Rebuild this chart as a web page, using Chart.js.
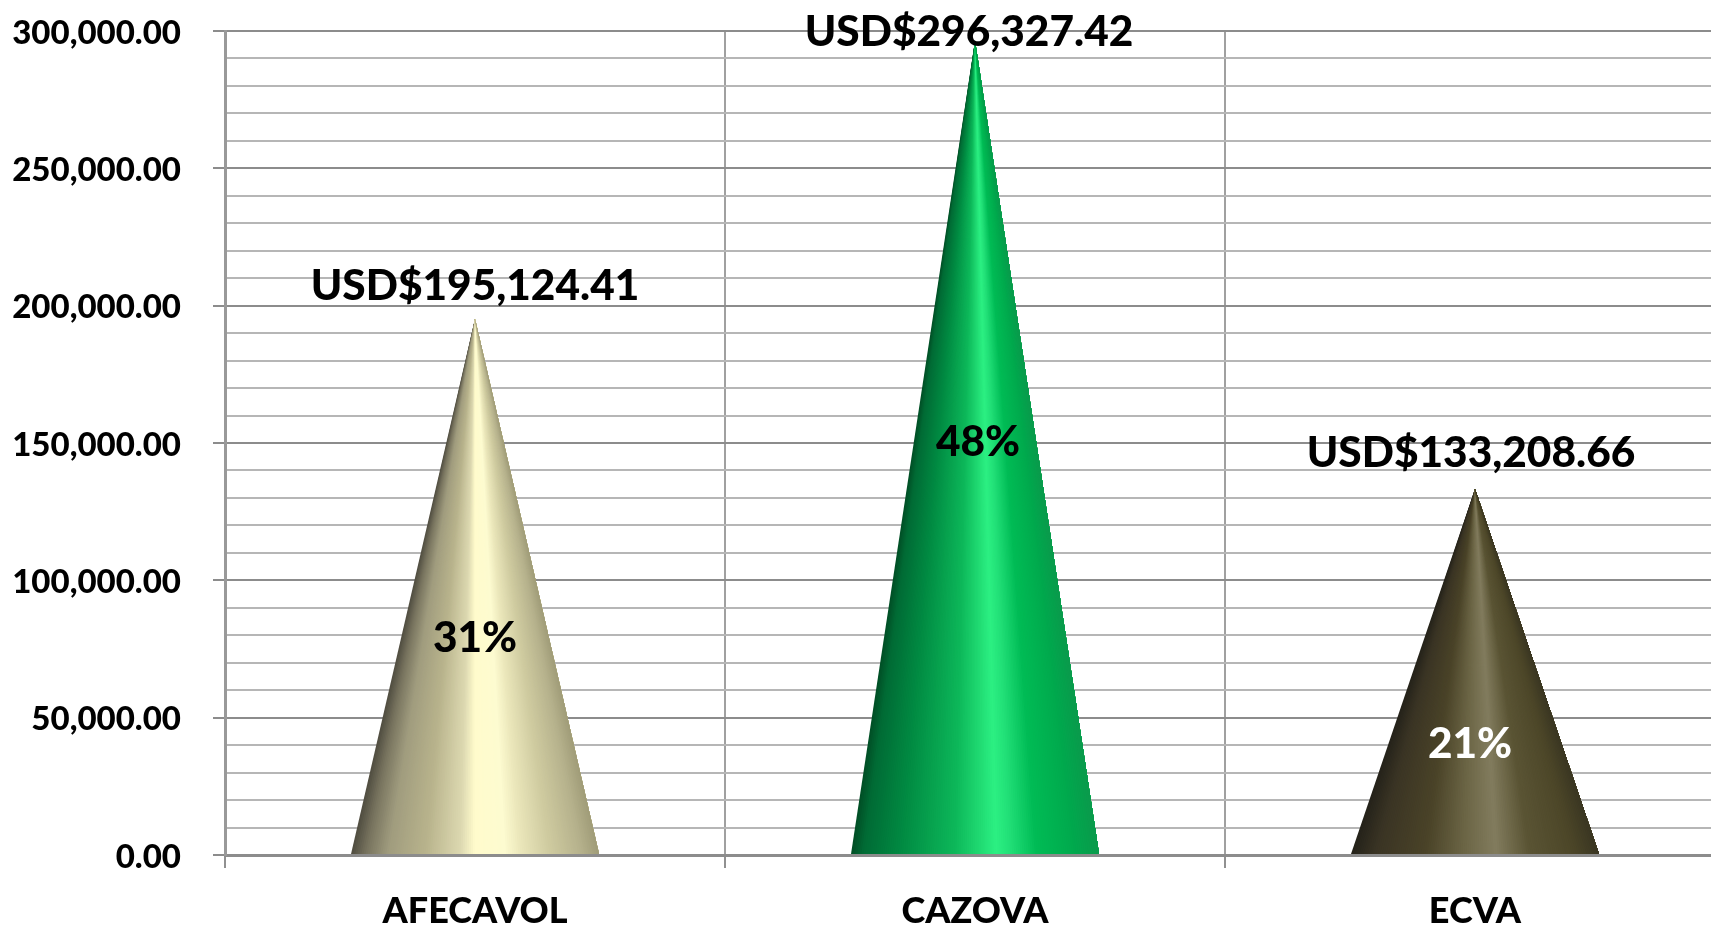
<!DOCTYPE html>
<html>
<head>
<meta charset="utf-8">
<title>Cones</title>
<script src="https://cdn.jsdelivr.net/npm/chart.js@4/dist/chart.umd.min.js"></script>
<style>
  html, body { margin: 0; padding: 0; background: #fff; overflow: hidden; width: 1711px; height: 927px; }
  #wrap { width: 1711px; height: 927px; overflow: hidden; position: relative; }
  #chart { position: absolute; left: 0; top: 0; }
</style>
</head>
<body>
<div id="wrap"><canvas id="chart" width="1730" height="927"></canvas></div>
<script>
// --- data ---
const categories = ['AFECAVOL', 'CAZOVA', 'ECVA'];
const amounts = [195124.41, 296327.42, 133208.66];
const percents = ['31%', '48%', '21%'];
const yMax = 300000;
const minorStep = 10000;
const majorStep = 50000;

// --- cone shading, position 0..1 across the base ---
const coneStops = [
  [[0,'#4f4c40'],[.06,'#77735e'],[.15,'#a09c7e'],[.3,'#b8b38c'],[.44,'#dcd8b0'],[.5,'#fffbcc'],[.62,'#fdfbd0'],[.68,'#ece8bc'],[.8,'#cfcba0'],[.93,'#b5b18c'],[1,'#a09c78']],
  [[0,'#004d25'],[.05,'#006b35'],[.2,'#018a42'],[.42,'#0db85a'],[.585,'#2cf082'],[.64,'#22e078'],[.75,'#00bb55'],[.9,'#00a94d'],[1,'#0a9a4c']],
  [[0,'#24221a'],[.1,'#3a3424'],[.3,'#4a4328'],[.45,'#6a6444'],[.585,'#827c5e'],[.72,'#5a5434'],[.9,'#4c4628'],[1,'#3a3622']]
];
// labels sit by hand in the original, so offsets from apex / cone middle
const amountOffsetX = [0, -6, -4];
const amountOffsetY = [-33, -33, -36];
const pctOffsetX = [0, 3, -5];
const pctOffsetY = [52, -5, 73];
const pctColors = ['#000', '#000', '#fff'];

const labelFont = '900 42.4px Lato';

function hexToRgb(h) {
  return [parseInt(h.substr(1,2),16), parseInt(h.substr(3,2),16), parseInt(h.substr(5,2),16)];
}

function colorAt(stops, t) {
  for (let i = 1; i < stops.length; i++) {
    if (t <= stops[i][0]) {
      const a = stops[i-1], b = stops[i];
      const k = (t - a[0]) / (b[0] - a[0]);
      const ca = hexToRgb(a[1]), cb = hexToRgb(b[1]);
      return 'rgb(' + ca.map((v, n) => Math.round(v + (cb[n] - v) * k)).join(',') + ')';
    }
  }
  return stops[stops.length-1][1];
}

// draws cones over the (invisible) bars, painted left to right so no seams show
const conePlugin = {
  id: 'cones',
  beforeDraw(chart) {
    // y tick labels sit a touch below their gridlines in the original
    chart.scales.y.getLabelItems().forEach(it => { it.options.translation[1] += 2; });
  },
  afterDatasetsDraw(chart) {
    const ctx = chart.ctx;
    const bars = chart.getDatasetMeta(0).data;
    bars.forEach((bar, i) => {
      const left = bar.x - bar.width / 2;
      const right = bar.x + bar.width / 2;
      const slices = 120;
      ctx.save();
      for (let s = 0; s < slices; s++) {
        const x0 = left + bar.width * s / slices;
        ctx.beginPath();
        ctx.moveTo(bar.x, bar.y);
        ctx.lineTo(x0, bar.base);
        ctx.lineTo(right, bar.base);
        ctx.closePath();
        ctx.fillStyle = colorAt(coneStops[i], (s + .5) / slices);
        ctx.fill();
      }
      ctx.restore();

      ctx.save();
      ctx.font = labelFont;
      ctx.textAlign = 'center';
      ctx.textBaseline = 'middle';
      const txt = 'USD$' + amounts[i].toLocaleString('en-US', { minimumFractionDigits: 2 });
      ctx.fillStyle = '#000';
      ctx.fillText(txt, bar.x + amountOffsetX[i], Math.max(bar.y + amountOffsetY[i], 32));
      ctx.fillStyle = pctColors[i];
      ctx.fillText(percents[i], bar.x + pctOffsetX[i], (bar.y + bar.base) / 2 + pctOffsetY[i]);
      ctx.restore();
    });
  }
};

new Chart(document.getElementById('chart'), {
  type: 'bar',
  plugins: [conePlugin],
  data: {
    labels: categories,
    datasets: [{
      data: amounts,
      backgroundColor: 'transparent',
      barPercentage: 0.496,
      categoryPercentage: 1
    }]
  },
  options: {
    responsive: false,
    animation: false,
    layout: { padding: { top: 31, right: 5, left: 0, bottom: 0 } },
    plugins: { legend: { display: false }, tooltip: { enabled: false } },
    scales: {
      x: {
        afterFit(scale) { scale.height = 72; },
        grid: { color: '#a0a0a0', lineWidth: 2, tickLength: 13, tickColor: '#909090' },
        border: { color: '#8c8c8c', width: 3 },
        ticks: { color: '#000', font: { family: 'Lato', weight: '900', size: 36 }, padding: 22, maxRotation: 0 }
      },
      y: {
        min: 0,
        max: yMax,
        afterFit(scale) { scale.width = 225; scale.paddingTop = 0; scale.paddingBottom = 0; },
        grid: {
          color: c => (c.tick && c.tick.value % majorStep === 0) ? '#8c8c8c' : '#b6b6b6',
          lineWidth: 2,
          tickLength: 12,
          tickColor: c => (c.tick && c.tick.value % majorStep === 0) ? '#8c8c8c' : 'transparent'
        },
        border: { color: '#999', width: 3 },
        ticks: {
          stepSize: minorStep,
          autoSkip: false,
          color: '#000',
          font: { family: 'Lato', weight: '900', size: 33 },
          padding: 32,
          callback: v => v % majorStep === 0 ? v.toLocaleString('en-US', { minimumFractionDigits: 2 }) : ''
        }
      }
    }
  }
});
</script>
</body>
</html>
